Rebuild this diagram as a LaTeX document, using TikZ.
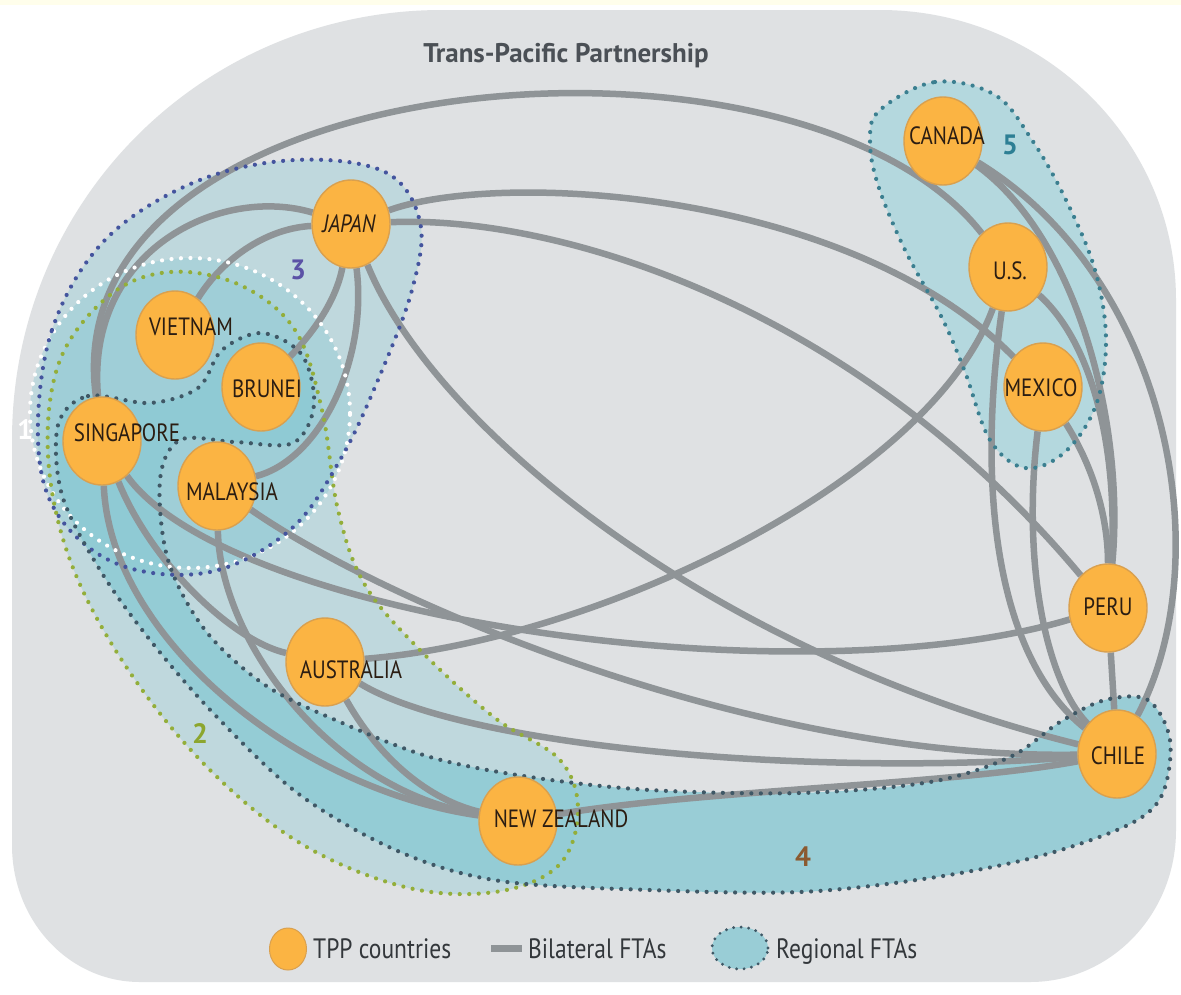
\documentclass[tikz,border=0pt]{standalone}
\usepackage{fontspec}
\usepackage{tikz}
\usetikzlibrary{shapes,shapes.geometric,positioning,calc}
\newfontfamily\cfont{PT Sans}[FakeStretch=0.84]
\newfontfamily\tfont{PT Sans}

\definecolor{framegray}{HTML}{DFE1E3}
\definecolor{ftagray}{HTML}{8F9497}
\definecolor{tppfill}{HTML}{FBB443}
\definecolor{tppdraw}{HTML}{D9A04F}
\definecolor{regteal}{HTML}{8DCAD4}
\definecolor{reg5fill}{HTML}{B4D8DE}
\definecolor{dottwo}{HTML}{93AE3A}
\definecolor{dotthree}{HTML}{44549E}
\definecolor{dotfour}{HTML}{3F5866}
\definecolor{dotfive}{HTML}{3B7F90}
\definecolor{numtwo}{HTML}{8CA62E}
\definecolor{numthree}{HTML}{5B52A6}
\definecolor{numfour}{HTML}{8B5A30}
\definecolor{numfive}{HTML}{2D7F94}
\definecolor{labeltext}{HTML}{2B1D12}
\definecolor{titletext}{HTML}{4B5056}
\definecolor{legtext}{HTML}{33373B}

\pgfdeclarelayer{bg}
\pgfdeclarelayer{mid}
\pgfsetlayers{bg,mid,main}

\tikzset{country/.style={draw=tppdraw, fill=tppfill, ellipse, line width=1.4pt, inner sep=0pt, minimum width=78pt, minimum height=88pt}}
\tikzset{dotline/.style={line width=4.2pt, line cap=round, dash pattern=on 0pt off 9.5pt}}
\tikzset{regfill/.style={fill=regteal, fill opacity=0.38}}
\tikzstyle{cname}=[inner sep=0pt, text=labeltext, font=\cfont\fontsize{25}{25}\selectfont]
\tikzstyle{fta}=[draw=ftagray, line width=6.5pt]
\tikzstyle{num}=[inner sep=0pt, font=\tfont\bfseries\fontsize{28}{28}\selectfont]
\tikzstyle{legtxt}=[inner sep=0pt, text=legtext, font=\cfont\fontsize{28}{28}\selectfont, anchor=base west]

\begin{document}
\begin{tikzpicture}[x=1pt, y=-1pt]
\useasboundingbox (0,0) rectangle (1181,994);

% countries
\node[country] (ca) at (943,141) {};
\node[country] (us) at (1008,267) {};
\node[country] (mx) at (1043,387) {};
\node[country] (pe) at (1108,608) {};
\node[country] (cl) at (1117,754) {};
\node[country] (ja) at (351,224) {};
\node[country] (vn) at (175,335) {};
\node[country] (bn) at (261,387) {};
\node[country] (sg) at (102,441) {};
\node[country] (my) at (217,486) {};
\node[country] (au) at (325,662) {};
\node[country] (nz) at (518,821) {};

\node[cname] (ca-t) at (947,136) {CANADA};
\node[cname] (us-t) at (1010,271) {U.S.};
\node[cname] (mx-t) at (1041,388) {MEXICO};
\node[cname] (pe-t) at (1108,607) {PERU};
\node[cname] (cl-t) at (1118,756) {CHILE};
\node[cname] (ja-t) at (349,224) {\itshape JAPAN};
\node[cname] (vn-t) at (191,327) {VIETNAM};
\node[cname] (bn-t) at (267,389) {BRUNEI};
\node[cname] (sg-t) at (127,433) {SINGAPORE};
\node[cname] (my-t) at (232,492) {MALAYSIA};
\node[cname] (au-t) at (351,670) {AUSTRALIA};
\node[cname] (nz-t) at (561,819) {NEW ZEALAND};

\begin{pgfonlayer}{bg}
\fill[white] (0,0) rectangle (1181,994);
\fill[yellow!8] (0,0) rectangle (1181,5);
\fill[framegray] (12,440) .. controls (12,199) and (205,10) .. (442,10) -- (880,10)
  .. controls (1043,10) and (1176,140) .. (1176,300) -- (1176,830)
  .. controls (1176,914) and (1111,982) .. (1030,982) -- (140,982)
  .. controls (69,982) and (12,921) .. (12,845) -- cycle;
% regional FTAs
\fill[regfill] (190,413) ellipse [x radius=160pt, y radius=155pt];
\fill[regfill] plot[smooth cycle, tension=0.6] coordinates {(60,360) (110,295) (170,272) (240,285) (295,330) (322,410) (338,510) (365,585) (420,650) (495,718) (560,760) (578,812) (558,866) (495,892) (405,887) (300,843) (205,765) (125,665) (70,560) (48,455)};
\fill[regfill] plot[smooth cycle, tension=0.6] coordinates {(38,440) (52,330) (105,240) (195,182) (295,160) (385,172) (420,222) (412,290) (378,380) (340,460) (290,530) (210,572) (120,565) (58,515)};
\fill[regteal, fill opacity=0.85] plot[smooth cycle, tension=0.55] coordinates {(58,425) (88,396) (150,403) (198,388) (222,350) (262,333) (302,355) (314,405) (293,443) (235,442) (180,440) (160,480) (168,560) (205,630) (265,685) (340,722) (430,757) (530,777) (650,790) (800,793) (930,782) (1010,757) (1060,722) (1105,700) (1148,700) (1170,740) (1162,795) (1128,825) (1040,856) (930,878) (800,892) (650,890) (500,881) (400,852) (300,795) (215,715) (150,640) (100,570) (62,495)};
\fill[reg5fill] plot[smooth cycle, tension=0.6] coordinates {(880,110) (935,82) (995,95) (1032,140) (1066,200) (1095,270) (1106,340) (1096,405) (1065,452) (1025,468) (990,440) (965,372) (942,318) (905,250) (878,185) (870,140)};
\end{pgfonlayer}

\begin{pgfonlayer}{mid}
% bilateral FTAs
\draw[fta] (sg) .. controls (50,60) and (800,0) .. (us);
\draw[fta] (sg) .. controls (85,250) and (220,185) .. (ja);
\draw[fta] (vn) .. controls (225,255) and (270,228) .. (ja);
\draw[fta] (bn) .. controls (325,320) and (338,290) .. (ja);
\draw[fta] (my) .. controls (320,460) and (368,360) .. (ja);
\draw[fta] (ja) .. controls (500,170) and (850,190) .. (mx);
\draw[fta] (ja) .. controls (550,215) and (850,300) .. (pe);
\draw[fta] (ja) .. controls (430,420) and (700,650) .. (cl);
\draw[fta] (sg) .. controls (230,620) and (800,700) .. (pe);
\draw[fta] (my) .. controls (380,600) and (750,760) .. (cl);
\draw[fta] (au) .. controls (600,640) and (930,480) .. (us);
\draw[fta] (au) .. controls (460,745) and (800,778) .. (cl);
\draw[fta] (au) .. controls (380,760) and (430,800) .. (nz);
\draw[fta] (sg) .. controls (150,560) and (230,640) .. (au);
\draw[fta] (my) .. controls (220,640) and (330,790) .. (nz);
\draw[fta] (sg) .. controls (110,640) and (300,790) .. (nz);
\draw[fta] (nz) .. controls (700,790) and (950,785) .. (cl);
\draw[fta] (ca) .. controls (1080,240) and (1125,430) .. (pe);
\draw[fta] (ca) .. controls (1170,280) and (1220,560) .. (cl);
\draw[fta] (us) .. controls (1100,350) and (1118,470) .. (pe);
\draw[fta] (mx) .. controls (1095,470) and (1108,520) .. (pe);
\draw[fta] (us) .. controls (975,500) and (1000,660) .. (cl);
\draw[fta] (mx) .. controls (1022,560) and (1045,680) .. (cl);
\draw[fta] (pe) -- (cl);
% outlines of the regional FTAs
\draw[dotline, white] (190,413) ellipse [x radius=160pt, y radius=155pt];
\draw[dotline, dottwo] plot[smooth cycle, tension=0.6] coordinates {(60,360) (110,295) (170,272) (240,285) (295,330) (322,410) (338,510) (365,585) (420,650) (495,718) (560,760) (578,812) (558,866) (495,892) (405,887) (300,843) (205,765) (125,665) (70,560) (48,455)};
\draw[dotline, dotthree] plot[smooth cycle, tension=0.6] coordinates {(38,440) (52,330) (105,240) (195,182) (295,160) (385,172) (420,222) (412,290) (378,380) (340,460) (290,530) (210,572) (120,565) (58,515)};
\draw[dotline, dotfour] plot[smooth cycle, tension=0.55] coordinates {(58,425) (88,396) (150,403) (198,388) (222,350) (262,333) (302,355) (314,405) (293,443) (235,442) (180,440) (160,480) (168,560) (205,630) (265,685) (340,722) (430,757) (530,777) (650,790) (800,793) (930,782) (1010,757) (1060,722) (1105,700) (1148,700) (1170,740) (1162,795) (1128,825) (1040,856) (930,878) (800,892) (650,890) (500,881) (400,852) (300,795) (215,715) (150,640) (100,570) (62,495)};
\draw[dotline, dotfive] plot[smooth cycle, tension=0.6] coordinates {(880,110) (935,82) (995,95) (1032,140) (1066,200) (1095,270) (1106,340) (1096,405) (1065,452) (1025,468) (990,440) (965,372) (942,318) (905,250) (878,185) (870,140)};
\end{pgfonlayer}

\node[inner sep=0pt, text=titletext, font=\tfont\bfseries\fontsize{27}{27}\selectfont, anchor=base] (title) at (566,62) {Trans-Pacific Partnership};

\node[num, white] (n1) at (25,430) {1};
\node[num, numtwo] (n2) at (200,733) {2};
\node[num, numthree] (n3) at (298,270) {3};
\node[num, numfour] (n4) at (803,857) {4};
\node[num, numfive] (n5) at (1010,145) {5};

% legend
\node[country, minimum width=37pt, minimum height=42pt, line width=1pt] (lg-tpp) at (288,949) {};
\node[legtxt] (lg-tpp-t) at (313,958) {TPP countries};
\coordinate (lg-a) at (491,948);
\coordinate (lg-b) at (522,948);
\draw[fta, line width=7pt] (lg-a) -- (lg-b);
\node[legtxt] (lg-bil-t) at (528,958) {Bilateral FTAs};
\fill[regteal, fill opacity=0.85] (740,948) ellipse [x radius=28pt, y radius=21pt];
\draw[dotline, dotfour, line width=3.2pt, dash pattern=on 0pt off 7.5pt] (740,948) ellipse [x radius=28pt, y radius=21pt];
\node[legtxt] (lg-reg-t) at (776,958) {Regional FTAs};
\end{tikzpicture}
\end{document}
